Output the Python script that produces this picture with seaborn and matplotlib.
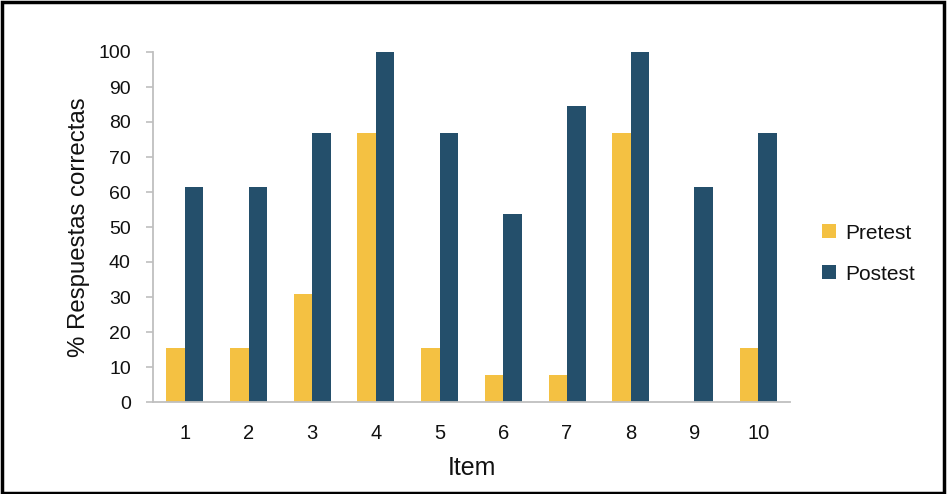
import matplotlib
matplotlib.use("Agg")
import matplotlib.pyplot as plt
import seaborn as sns
import pandas as pd
from matplotlib.patches import Rectangle

items = ["1", "2", "3", "4", "5", "6", "7", "8", "9", "10"]
pretest = [15.4, 15.4, 30.8, 76.9, 15.4, 7.7, 7.7, 76.9, 0, 15.4]
postest = [61.5, 61.5, 76.9, 100, 76.9, 53.8, 84.6, 100, 61.5, 76.9]
series = ["Pretest", "Postest"]
colors = ["#F4C142", "#244F6B"]

df = pd.DataFrame({
    "Item": items * 2,
    "Valor": pretest + postest,
    "Serie": [series[0]] * len(items) + [series[1]] * len(items),
})

sns.set_theme(style="white")
plt.rcParams["font.family"] = ["Liberation Sans", "DejaVu Sans"]

fig = plt.figure(figsize=(9.48, 4.94), dpi=100)
ax = fig.add_axes([153 / 948, 1 - 402 / 494, (790 - 153) / 948, (402 - 52) / 494])

sns.barplot(data=df, x="Item", y="Valor", hue="Serie", order=items,
            hue_order=series, palette=colors, width=0.58, ax=ax,
            saturation=1, edgecolor="none", linewidth=0)

ax.set_ylim(0, 100)
ax.set_xlim(-0.5, len(items) - 0.5)
ax.set_yticks(range(0, 101, 10))
ax.tick_params(axis="y", which="both", left=True, length=5, width=1.2,
               color="#BFBFBF", labelsize=14, pad=11, labelcolor="#111111")
ax.tick_params(axis="x", bottom=False, labelsize=14.5, pad=10, labelcolor="#111111")
for s in ["top", "right"]:
    ax.spines[s].set_visible(False)
for s in ["left", "bottom"]:
    ax.spines[s].set_color("#BFBFBF")
    ax.spines[s].set_linewidth(1.3)

ax.set_ylabel("% Respuestas correctas", fontsize=17.3, labelpad=6, color="#111111")
ax.set_xlabel("Item", fontsize=18, labelpad=9, color="#111111")

leg = ax.legend(loc="center left", bbox_to_anchor=(1.021, 0.424), frameon=False,
                fontsize=15, handlelength=0.65, handleheight=0.65,
                handletextpad=0.45, labelspacing=1.05)
for t in leg.get_texts():
    t.set_color("#111111")

fig.patches.append(Rectangle((0.002, 0.003), 0.994, 0.992, transform=fig.transFigure,
                             fill=False, edgecolor="black", linewidth=2.5))

fig.savefig("out.png", dpi=100)
